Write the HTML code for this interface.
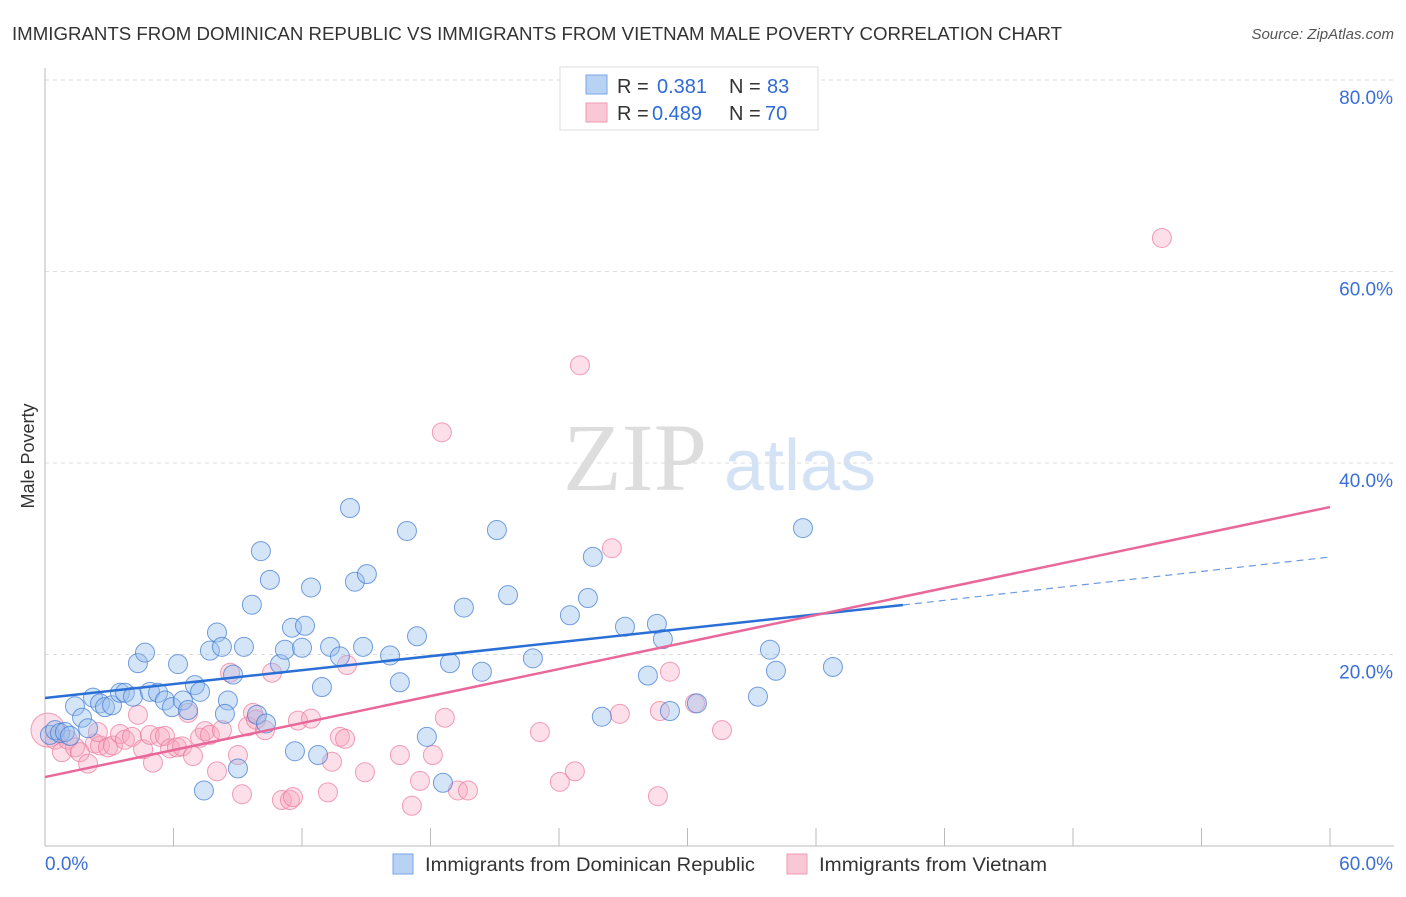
<!DOCTYPE html>
<html><head><meta charset="utf-8"><style>
body{margin:0;background:#fff;font-family:"Liberation Sans",sans-serif;}
svg text{font-family:"Liberation Sans",sans-serif;}
</style></head><body>
<svg id="c" width="1406" height="892" viewBox="0 0 1406 892">
<text x="12" y="40" font-size="18" fill="#333" textLength="1050" lengthAdjust="spacingAndGlyphs">IMMIGRANTS FROM DOMINICAN REPUBLIC VS IMMIGRANTS FROM VIETNAM MALE POVERTY CORRELATION CHART</text>
<text x="1394" y="39" font-size="15" fill="#555" font-style="italic" text-anchor="end">Source: ZipAtlas.com</text>
<text x="34" y="456" font-size="18" fill="#333" text-anchor="middle" transform="rotate(-90 34 456)">Male Poverty</text>
<g><text x="635" y="490" font-size="96" fill="#ddd" text-anchor="middle" font-family="Liberation Serif" style="font-family:'Liberation Serif',serif">ZIP</text><text x="800" y="490" font-size="72" fill="#d4e2f5" text-anchor="middle">atlas</text></g>
<g id="grid"></g><g id="axes"></g><g id="pts"></g><g id="lines"></g>
<g>
<rect x="560" y="67" width="258" height="63" fill="#fff" stroke="#ddd"/>
<rect x="586" y="75" width="21" height="19" fill="#b8d2f3" stroke="#7aa6e4"/>
<text x="617" y="93" font-size="20" fill="#333">R = </text><text x="657" y="93" font-size="20" fill="#2e6bd6">0.381</text>
<text x="729" y="93" font-size="20" fill="#333">N = </text><text x="767" y="93" font-size="20" fill="#2e6bd6">83</text>
<rect x="586" y="103" width="21" height="19" fill="#f9c8d6" stroke="#ef9ab3"/>
<text x="617" y="120" font-size="20" fill="#333">R = </text><text x="652" y="120" font-size="20" fill="#2e6bd6">0.489</text>
<text x="729" y="120" font-size="20" fill="#333">N = </text><text x="765" y="120" font-size="20" fill="#2e6bd6">70</text>
</g>
<g>
<rect x="393" y="854" width="20" height="20" fill="#b8d2f3" stroke="#7aa6e4"/>
<text x="425" y="871" font-size="19" fill="#333" textLength="330" lengthAdjust="spacingAndGlyphs">Immigrants from Dominican Republic</text>
<rect x="787" y="854" width="20" height="20" fill="#f9c8d6" stroke="#ef9ab3"/>
<text x="819" y="871" font-size="19" fill="#333" textLength="228" lengthAdjust="spacingAndGlyphs">Immigrants from Vietnam</text>
</g>
</svg>
<script>
const yTicks=[20,40,60,80];
const yTickLabels=["20.0%","40.0%","60.0%","80.0%"];
const xTicks=[0,6,12,18,24,30,36,42,48,54,60];
const blueX=[0.23,0.47,0.70,0.93,1.17,1.40,1.73,2.01,2.24,2.57,2.80,3.13,3.50,3.73,4.11,4.34,4.67,4.90,5.28,5.60,5.93,6.21,6.44,6.68,7.00,7.24,7.70,8.03,8.26,8.54,8.78,9.01,9.29,9.66,9.90,10.08,10.32,10.50,10.97,11.20,11.53,11.67,12.0,12.14,12.42,12.75,12.93,13.31,13.77,14.24,14.47,14.85,15.03,16.11,16.57,16.90,17.37,17.83,18.58,18.91,19.56,20.40,21.10,21.62,22.78,24.51,25.35,25.58,26.0,27.08,28.15,28.57,28.85,29.18,30.44,33.29,33.85,34.13,35.39,36.79,7.42,8.40];
const blueY=[11.6,12.1,11.8,11.9,11.5,14.6,13.4,12.3,15.5,14.9,14.5,14.7,16.0,16.0,15.6,19.1,20.2,16.1,16.0,15.2,14.5,19.0,15.2,14.2,16.8,16.1,20.4,22.3,20.8,15.2,17.9,8.1,20.8,25.2,13.7,30.8,12.8,27.8,19.0,20.5,22.8,9.9,20.7,23.0,27.0,9.5,16.6,20.8,19.8,35.3,27.6,20.8,28.4,19.9,17.1,32.9,21.9,11.4,6.6,19.1,24.9,18.2,33.0,26.2,19.6,24.1,25.9,30.2,13.5,22.9,17.8,23.2,21.6,14.1,14.9,15.6,20.5,18.3,33.2,18.7,5.8,13.8];
const pinkX=[0.14,0.47,0.79,1.07,1.40,1.63,2.01,2.33,2.57,2.94,3.17,3.50,3.73,4.06,4.34,4.58,4.90,5.04,5.37,5.60,5.84,6.16,6.40,6.68,6.91,7.24,7.47,7.70,8.03,8.26,8.64,9.01,9.20,9.48,9.71,9.85,10.27,10.60,11.06,11.44,11.58,11.81,12.42,13.21,13.40,13.77,14.01,14.10,14.94,16.57,17.13,17.51,18.11,18.53,18.67,19.28,19.75,23.11,24.04,24.74,24.98,26.47,26.84,28.62,28.71,29.18,30.35,31.61,52.15,2.47];
const pinkY=[12.1,11.1,9.8,11.1,10.3,9.8,8.6,10.7,10.5,10.3,10.5,11.7,11.1,11.4,13.7,10.1,11.6,8.7,11.4,11.5,10.2,10.3,10.4,13.9,9.4,11.3,12.0,11.6,7.8,12.1,18.1,9.5,5.4,12.5,13.9,13.2,12.1,18.1,4.8,4.8,5.1,13.1,13.3,5.6,8.8,11.4,11.2,18.9,7.7,9.5,4.2,6.8,9.5,43.2,13.4,5.8,5.8,11.9,6.7,7.8,50.2,31.1,13.8,5.2,14.1,18.2,14.9,12.1,63.5,11.9];
const blueTrend=[15.46,25.17,30.18];
const blueTrendX=[0,40.06,60];
const pinkTrend=[7.2,35.4];
const pinkTrendX=[0,60];
const NS="http://www.w3.org/2000/svg";
const X=v=>45+v*1285/60, Y=v=>846-v*9.575;
function mk(t,a,p){const e=document.createElementNS(NS,t);for(const k in a)e.setAttribute(k,a[k]);p.appendChild(e);return e;}
const grid=document.getElementById('grid'),axes=document.getElementById('axes'),pts=document.getElementById('pts'),lines=document.getElementById('lines');
yTicks.forEach((t,i)=>{
 const l=mk('line',{x1:45,x2:1394,y1:Y(t),y2:Y(t),stroke:'#ddd','stroke-dasharray':'4,4'},grid);
 
 
 const tx=mk('text',{x:1393,y:Y(t)+24,'font-size':19,fill:'#3a6fd8','text-anchor':'end'},grid);
 tx.textContent=yTickLabels[i];
 
 
});
let a=mk('line',{x1:45,x2:45,y1:68,y2:846,stroke:'#bbb'},axes);


a=mk('line',{x1:45,x2:1394,y1:846,y2:846,stroke:'#bbb'},axes);


xTicks.forEach(t=>{const l=mk('line',{x1:X(t),x2:X(t),y1:828,y2:846,stroke:'#bbb'},axes);
 
 });
let t1=mk('text',{x:45,y:870,'font-size':19,fill:'#3a6fd8'},axes);t1.textContent='0.0%';


let t2=mk('text',{x:1393,y:870,'font-size':19,fill:'#3a6fd8','text-anchor':'end'},axes);t2.textContent='60.0%';


pinkX.forEach((x,i)=>{const c=mk('circle',{cx:X(x),cy:Y(pinkY[i]),r:i==0?17:9.5,fill:'rgba(246,164,190,0.35)',stroke:'rgba(236,120,155,0.7)','stroke-width':1},pts);
 
 });
blueX.forEach((x,i)=>{const c=mk('circle',{cx:X(x),cy:Y(blueY[i]),r:9.5,fill:'rgba(150,190,238,0.4)',stroke:'rgba(60,120,210,0.7)','stroke-width':1},pts);
 
 });
let bl=mk('line',{x1:X(blueTrendX[0]),y1:Y(blueTrend[0]),x2:X(blueTrendX[1]),y2:Y(blueTrend[1]),stroke:'#2a6fd6','stroke-width':2.5},lines);


let bd=mk('line',{x1:X(blueTrendX[1]),y1:Y(blueTrend[1]),x2:X(blueTrendX[2]),y2:Y(blueTrend[2]),stroke:'#6b9ae0','stroke-width':1.2,'stroke-dasharray':'7,5'},lines);


let pl=mk('line',{x1:X(pinkTrendX[0]),y1:Y(pinkTrend[0]),x2:X(pinkTrendX[1]),y2:Y(pinkTrend[1]),stroke:'#e8689a','stroke-width':2.5},lines);


</script>
</body></html>
